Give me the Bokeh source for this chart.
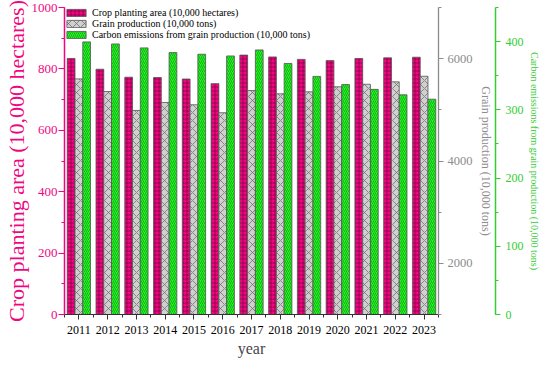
from bokeh.plotting import figure
from bokeh.models import (Range1d, LinearAxis, FixedTicker, SingleIntervalTicker,
                          ColumnDataSource, Legend, LegendItem)
from bokeh.transform import dodge
from bokeh.embed import file_html
from bokeh.resources import INLINE

years = [2011, 2012, 2013, 2014, 2015, 2016, 2017, 2018, 2019, 2020, 2021, 2022, 2023]
area = [834, 799, 773, 772, 767, 752, 845, 839, 831, 827, 834, 836, 838]
grain = [5605, 5358, 4988, 5144, 5099, 4943, 5378, 5313, 5352, 5450, 5500, 5547, 5656]
carbon = [399.6, 396.6, 390.8, 383.9, 381.5, 379.0, 387.8, 368.0, 349.0, 337.0, 330.0, 322.0, 315.6]

PINK = "#F0077F"
GRAY_AX = "#8C8C8C"
GREEN_AX = "#33CC33"
FONT = "Liberation Serif"

idx = list(range(len(years)))
src = ColumnDataSource(dict(idx=idx, area=area, grain=grain, carbon=carbon))

p = figure(width=542, height=359, output_backend="svg", toolbar_location=None,
           x_range=Range1d(-0.5, len(years) - 0.5), y_range=Range1d(0, 1000),
           min_border_left=0, min_border_right=0, min_border_top=7, min_border_bottom=0)
p.extra_y_ranges = {"grain": Range1d(1000, 7000), "carbon": Range1d(0, 450)}
p.outline_line_color = None
p.xgrid.visible = False
p.ygrid.visible = False

w = 0.27
r1 = p.vbar(x=dodge("idx", -w, range=p.x_range), top="area", bottom=0, width=w, source=src,
            fill_color=PINK, line_color="#555555", line_width=0.8,
            hatch_pattern="cross", hatch_color="#5a0030", hatch_scale=4, hatch_weight=0.6,
            hatch_alpha=0.9)
r2 = p.vbar(x=dodge("idx", 0, range=p.x_range), top="grain", bottom=p.extra_y_ranges["grain"].start,
            width=w, source=src, y_range_name="grain",
            fill_color="#D0D0D0", line_color="#555555", line_width=0.8,
            hatch_pattern="diagonal_cross", hatch_color="#666666", hatch_scale=8, hatch_weight=0.7)
r3 = p.vbar(x=dodge("idx", w, range=p.x_range), top="carbon", bottom=0, width=w, source=src,
            y_range_name="carbon",
            fill_color="#22F522", line_color="#555555", line_width=0.8,
            hatch_pattern="right_diagonal_line", hatch_color="#0a5a0a", hatch_scale=4,
            hatch_weight=0.5, hatch_alpha=0.9)

# x axis
xa = p.xaxis[0]
xa.ticker = FixedTicker(ticks=idx, minor_ticks=[i - 0.5 for i in range(len(years) + 1)])
xa.major_label_overrides = {i: str(y) for i, y in zip(idx, years)}
xa.axis_label = "year"
xa.axis_label_text_font = FONT
xa.axis_label_text_font_size = "16px"
xa.axis_label_text_font_style = "normal"
xa.axis_label_standoff = 3
xa.major_label_text_font = FONT
xa.major_label_text_font_size = "12px"
xa.major_label_text_color = "black"
xa.major_label_standoff = 6
xa.axis_line_color = "#333333"
xa.major_tick_line_color = "#333333"
xa.minor_tick_line_color = "#333333"
xa.major_tick_out = 5
xa.major_tick_in = 0
xa.minor_tick_out = 3
xa.minor_tick_in = 0

# left axis
ya = p.yaxis[0]
ya.ticker = SingleIntervalTicker(interval=200, num_minor_ticks=2)
ya.axis_label = "Crop planting area (10,000 hectares)"
ya.axis_label_text_font = FONT
ya.axis_label_text_font_size = "22px"
ya.axis_label_text_font_style = "normal"
ya.axis_label_text_color = PINK
ya.axis_label_standoff = 0
ya.major_label_text_font = FONT
ya.major_label_text_font_size = "13px"
ya.major_label_text_color = PINK
ya.major_label_standoff = 1
ya.axis_line_color = PINK
ya.axis_line_width = 1.5
ya.major_tick_line_color = PINK
ya.minor_tick_line_color = PINK
ya.major_tick_out = 6
ya.major_tick_in = 0
ya.minor_tick_out = 3
ya.minor_tick_in = 0

# grain axis
ga = LinearAxis(y_range_name="grain",
                ticker=FixedTicker(ticks=[2000, 4000, 6000], minor_ticks=[1000, 3000, 5000, 7000]),
                axis_label="Grain production (10,000 tons)")
ga.axis_label_text_font = FONT
ga.axis_label_text_font_size = "12px"
ga.axis_label_text_font_style = "normal"
ga.axis_label_text_color = GRAY_AX
ga.axis_label_standoff = 3
ga.major_label_text_font = FONT
ga.major_label_text_font_size = "12.5px"
ga.major_label_text_color = GRAY_AX
ga.major_label_standoff = 4
ga.axis_line_color = GRAY_AX
ga.axis_line_width = 1.3
ga.major_tick_line_color = GRAY_AX
ga.minor_tick_line_color = GRAY_AX
ga.major_tick_out = 5
ga.major_tick_in = 0
ga.minor_tick_out = 3
ga.minor_tick_in = 0
p.add_layout(ga, "right")

# carbon axis
ca = LinearAxis(y_range_name="carbon",
                ticker=SingleIntervalTicker(interval=100, num_minor_ticks=2),
                axis_label="Carbon emissions from grain production (10,000 tons)")
ca.axis_label_text_font = FONT
ca.axis_label_text_font_size = "10px"
ca.axis_label_text_font_style = "normal"
ca.axis_label_text_color = GREEN_AX
ca.axis_label_standoff = 2
ca.major_label_text_font = FONT
ca.major_label_text_font_size = "12px"
ca.major_label_text_color = GREEN_AX
ca.major_label_standoff = 5
ca.axis_line_color = GREEN_AX
ca.axis_line_width = 1.5
ca.major_tick_line_color = GREEN_AX
ca.minor_tick_line_color = GREEN_AX
ca.major_tick_out = 5
ca.major_tick_in = 0
ca.minor_tick_out = 3
ca.minor_tick_in = 0
p.add_layout(ca, "right")

legend = Legend(items=[
    LegendItem(label="Crop planting area (10,000 hectares)", renderers=[r1]),
    LegendItem(label="Grain production (10,000 tons)", renderers=[r2]),
    LegendItem(label="Carbon emissions from grain production (10,000 tons)", renderers=[r3]),
], location="top_left")
legend.label_text_font = FONT
legend.label_text_font_size = "10px"
legend.label_text_color = "black"
legend.label_height = 9
legend.label_standoff = 4
legend.glyph_width = 24
legend.glyph_height = 9
legend.spacing = 0
legend.padding = 0
legend.margin = 0
legend.label_text_line_height = 1.0
legend.border_line_color = None
legend.background_fill_alpha = 0
p.add_layout(legend, "center")

open("out.html", "w").write(file_html(p, INLINE))
